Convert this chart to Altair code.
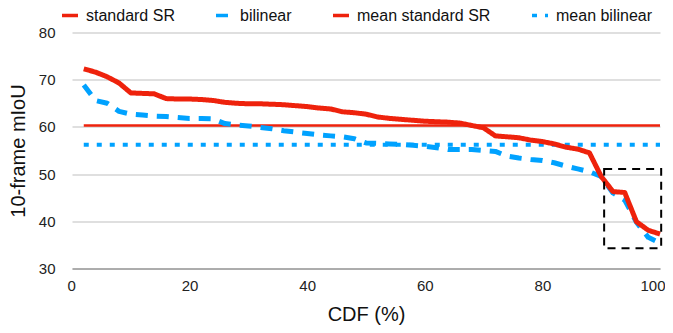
import altair as alt
import pandas as pd

# ---- data ----
cdf = [2, 4, 6, 8, 10, 12, 14, 16, 18, 20, 22, 24, 26, 28, 30, 32, 34, 36, 38, 40,
       42, 44, 46, 48, 50, 52, 54, 56, 58, 60, 62, 64, 66, 68, 70, 72, 74, 76, 78, 80,
       82, 84, 86, 88, 90, 92, 94, 96, 98, 100]
standard_sr = [72.3, 71.6, 70.6, 69.3, 67.2, 67.1, 67.0, 66.0, 65.9, 65.9,
               65.8, 65.6, 65.2, 65.0, 64.9, 64.9, 64.8, 64.7, 64.5, 64.3,
               64.0, 63.8, 63.2, 63.0, 62.7, 62.1, 61.8, 61.6, 61.4, 61.2,
               61.1, 61.0, 60.8, 60.3, 59.8, 58.1, 57.9, 57.7, 57.2, 56.9,
               56.4, 55.7, 55.3, 54.5, 49.5, 46.3, 46.1, 39.9, 38.1, 37.3]
bilinear = [68.9, 65.6, 65.0, 63.3, 62.7, 62.5, 62.3, 62.2, 62.0, 61.8,
            61.8, 61.7, 60.7, 60.4, 60.2, 59.9, 59.6, 59.2, 58.9, 58.6,
            58.3, 58.1, 57.9, 57.5, 56.6, 56.5, 56.4, 56.3, 56.1, 55.9,
            55.6, 55.2, 55.2, 55.2, 55.0, 54.8, 53.8, 53.4, 53.1, 52.9,
            52.4, 51.7, 51.1, 50.5, 49.5, 46.0, 44.5, 39.8, 36.6, 35.4]
mean_x = [2, 100]
mean_standard_sr = 60.3
mean_bilinear = 56.2
box_x = [90.5, 100.2]
box_y = [34.3, 51.1]

series = ["standard SR", "bilinear", "mean standard SR", "mean bilinear"]
colors = ["#EE220C", "#00A2FF", "#EE220C", "#00A2FF"]
dashes = [[1, 0], [12, 9], [1, 0], [5, 8]]
widths = {"standard SR": 5, "bilinear": 5, "mean standard SR": 2.5, "mean bilinear": 4}

rows = []
for x, v in zip(cdf, standard_sr):
    rows.append({"cdf": x, "miou": v, "series": "standard SR"})
for x, v in zip(cdf, bilinear):
    rows.append({"cdf": x, "miou": v, "series": "bilinear"})
for x in mean_x:
    rows.append({"cdf": x, "miou": mean_standard_sr, "series": "mean standard SR"})
    rows.append({"cdf": x, "miou": mean_bilinear, "series": "mean bilinear"})
df = pd.DataFrame(rows)

box_df = pd.DataFrame({"x0": [box_x[0]], "x1": [box_x[1]], "y0": [box_y[0]], "y1": [box_y[1]]})

x_enc = alt.X("cdf:Q", scale=alt.Scale(domain=[0, 100], nice=False),
              axis=alt.Axis(values=[0, 20, 40, 60, 80, 100], grid=False, ticks=False,
                            domain=True, domainColor="#7a7a7a", domainWidth=1,
                            labelFlush=True, labelFlushOffset=5, labelPadding=10, labelFontSize=15,
                            labelColor="#222222", title="CDF (%)", titleFontSize=20,
                            titleFontWeight="normal", titlePadding=11, titleColor="#111111"))
y_enc = alt.Y("miou:Q", scale=alt.Scale(domain=[30, 80], nice=False),
              axis=alt.Axis(values=[30, 40, 50, 60, 70, 80], grid=True, gridColor="#D4D4D4",
                            gridWidth=1.5, ticks=False, domain=False, labelPadding=17,
                            labelFontSize=15, labelColor="#222222", title="10-frame mIoU",
                            titleFontSize=20, titleFontWeight="normal", titlePadding=10,
                            titleColor="#111111"))

legend = alt.Legend(title=None, orient="none", legendX=-12, legendY=-27, direction="horizontal",
                    columns=4, gridAlign="none", symbolType="stroke", symbolSize=256,
                    symbolStrokeWidth=3.5, labelFontSize=16, labelColor="#111111",
                    labelOffset=6, columnPadding=34, padding=0)

color_enc = alt.Color("series:N", scale=alt.Scale(domain=series, range=colors), legend=legend)
dash_enc = alt.StrokeDash("series:N", scale=alt.Scale(domain=series, range=dashes), legend=legend)


def layer(name):
    return alt.Chart(df).transform_filter(alt.datum.series == name).mark_line(
        strokeJoin="round", strokeWidth=widths[name]).encode(
        x=x_enc, y=y_enc, color=color_enc, strokeDash=dash_enc, detail="series:N")


box = alt.Chart(box_df).mark_rect(fillOpacity=0, stroke="black", strokeWidth=2,
                                  strokeDash=[8, 6]).encode(
    x="x0:Q", x2="x1:Q", y="y0:Q", y2="y1:Q")

chart = alt.layer(
    layer("mean bilinear"), layer("mean standard SR"), layer("bilinear"), layer("standard SR"), box
).properties(
    width=588, height=236,
    autosize=alt.AutoSizeParams(type="none"),
    padding={"left": 64, "top": 24.5, "right": 5, "bottom": 56.5},
).configure(font="Liberation Sans").configure_view(stroke=None)

chart.save("out.html", embed_options={"renderer": "svg", "actions": False})
